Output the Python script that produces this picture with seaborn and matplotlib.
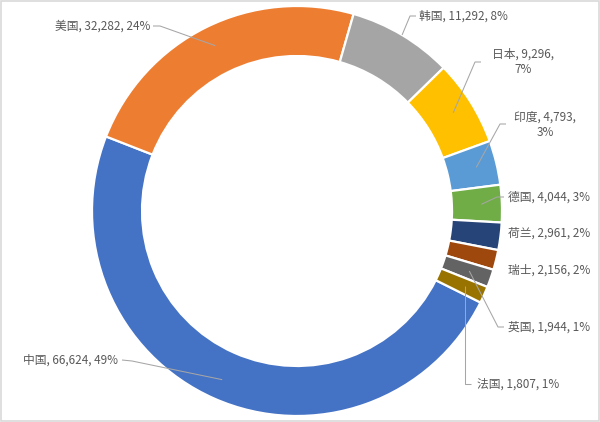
import numpy as np
import seaborn as sns
import matplotlib
matplotlib.use("Agg")
import matplotlib.pyplot as plt
import matplotlib.patches as patches

# data
countries = ["中国", "美国", "韩国", "日本", "印度", "德国", "荷兰", "瑞士", "英国", "法国"]
counts = [66624, 32282, 11292, 9296, 4793, 4044, 2961, 2156, 1944, 1807]
wrapped = [False, False, False, True, True, False, False, False, False, False]

# excel office palette
palette = ["#4472C4", "#ED7D31", "#A5A5A5", "#FFC000", "#5B9BD5",
           "#70AD47", "#264478", "#9E480E", "#636363", "#997300"]

sns.set_theme(style="white")
plt.rcParams["font.family"] = ["Noto Sans CJK SC", "DejaVu Sans"]

fig = plt.figure(figsize=(6.0, 4.22), dpi=100)
ax = fig.add_axes([0, 0, 1, 1])
ax.set_xlim(0, 600)
ax.set_ylim(422, 0)   # pixel-like coords, y down
ax.axis("off")

cx, cy, r_out, ring = 297, 211, 205, 50

# y axis is flipped, so counterclock=True draws clockwise on screen
wedges, _ = ax.pie(counts, colors=palette, startangle=26.5, counterclock=True,
                   radius=r_out, center=(cx, cy), frame=True,
                   wedgeprops=dict(width=ring, edgecolor="white", linewidth=1.6))
ax.set_xlim(0, 600)
ax.set_ylim(422, 0)
ax.axis("off")

total = sum(counts)
pcts = [round(100 * c / total) for c in counts]

# label layout: text anchor, alignment, leader path (after the wedge point), leader radius
layout = [
    dict(xy=(118, 360), ha="right", path=[(132, 361), (122, 360)], rf=0.9),
    dict(xy=(150, 26), ha="right", path=[(160, 26), (153, 26)], rf=0.9),
    dict(xy=(419, 16), ha="left", path=[(410, 16), (416, 16)], rf=1.0),
    dict(xy=(523, 62), ha="center", path=[(475, 62), (481, 62)], rf=0.9),
    dict(xy=(545, 125), ha="center", path=[(500, 124), (506, 124)], rf=0.9),
    dict(xy=(508, 197), ha="left", path=[(497, 197), (504, 197)], rf=0.9),
    dict(xy=(508, 233), ha="left", path=None, rf=0.9),
    dict(xy=(508, 270), ha="left", path=None, rf=0.9),
    dict(xy=(508, 327), ha="left", path=[(498, 327), (504, 327)], rf=0.89),
    dict(xy=(477, 384), ha="left", path=[(463, 384), (471, 384)], rf=0.9),
]

for w, name, val, p, wrap, lay in zip(wedges, countries, counts, pcts, wrapped, layout):
    sep = ",\n" if wrap else ", "
    txt = f"{name}, {val:,}{sep}{p}%"
    ax.text(lay["xy"][0], lay["xy"][1], txt, ha=lay["ha"], va="center",
            fontsize=8.5, color="#595959", linespacing=1.25,
            multialignment="center")
    if lay["path"] is not None:
        mid = np.deg2rad((w.theta1 + w.theta2) / 2)
        r = r_out * lay["rf"]
        x0, y0 = cx + r * np.cos(mid), cy + r * np.sin(mid)
        if name == "法国":
            lay["path"][0] = (x0, lay["path"][0][1])
        xs = [x0] + [pt[0] for pt in lay["path"]]
        ys = [y0] + [pt[1] for pt in lay["path"]]
        ax.plot(xs, ys, color="#A6A6A6", lw=0.75, solid_capstyle="butt")

# chart area border
fig.patches.append(patches.Rectangle((0.002, 0.002), 0.996, 0.995, transform=fig.transFigure,
                                     fill=False, edgecolor="#D9D9D9", lw=1.2))

plt.savefig("out.png", dpi=100)
